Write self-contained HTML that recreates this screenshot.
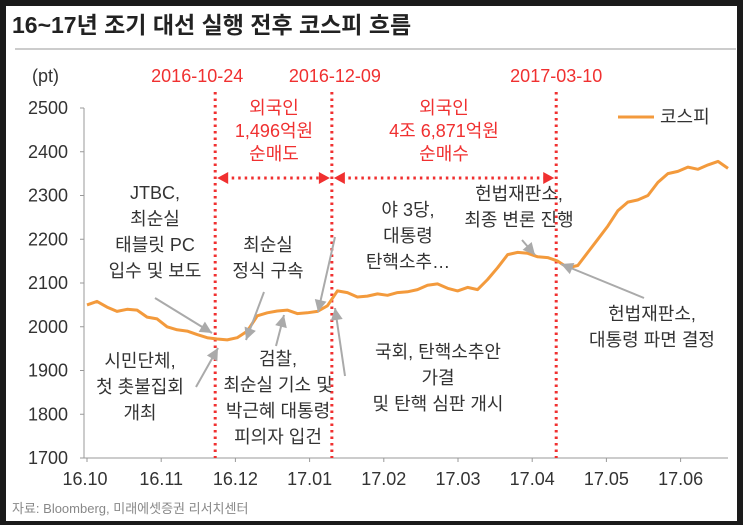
<!DOCTYPE html>
<html><head><meta charset="utf-8"><style>
body{margin:0;background:#1a1a1a;}
#wrap{position:absolute;left:6px;top:6px;width:731px;height:515px;background:#fff;}
svg{position:absolute;left:0;top:0;}
text{font-family:"Liberation Sans","Noto Sans CJK KR",sans-serif;}
</style></head><body>
<div id="wrap"></div>
<svg id="chart" width="743" height="525">
<text x="12" y="33" font-size="23" font-weight="bold" fill="#222">16~17년 조기 대선 실행 전후 코스피 흐름</text>
<line x1="15" y1="49" x2="736" y2="49" stroke="#ccc" stroke-width="2"/>
<text x="32" y="82" font-size="18" fill="#333">(pt)</text>
<g id="axes"></g>
<g id="marks"></g>
<text x="12" y="513" font-size="13" fill="#888">자료: Bloomberg, 미래에셋증권 리서치센터</text>
</svg>
<script>
const yTicks=[1700,1800,1900,2000,2100,2200,2300,2400,2500];
const xTickLabels=["16.10","16.11","16.12","17.01","17.02","17.03","17.04","17.05","17.06"];
const xTickPos=[0,1,2,3,4,5,6,7,8];
const kospi=[2050,2058,2045,2035,2040,2038,2022,2018,2000,1993,1990,1982,1975,1972,1970,1975,1990,2025,2032,2036,2038,2030,2032,2035,2048,2082,2078,2068,2070,2075,2072,2078,2080,2085,2095,2098,2088,2082,2090,2085,2108,2135,2165,2170,2168,2160,2158,2150,2135,2140,2170,2200,2230,2265,2285,2290,2300,2330,2350,2355,2365,2360,2370,2378,2362];
const eventDates=["2016-10-24","2016-12-09","2017-03-10"];
const eventPos=[0.20,0.382,0.732];

const NS="http://www.w3.org/2000/svg";
const axes=document.getElementById('axes'),marks=document.getElementById('marks');
const X0=87,X1=728,Y0=458,Y1=108;
const y=v=>Y0-(v-1700)/800*(Y0-Y1);
const xi=i=>X0+i*(X1-X0)/(kospi.length-1);
const xm=m=>X0+m*74.2;
const xf=f=>X0+f*(X1-X0);
function el(t,a,p){const e=document.createElementNS(NS,t);for(const k in a)e.setAttribute(k,a[k]);(p||marks).appendChild(e);return e;}
function txt(x,yy,s,a,p){const e=el('text',Object.assign({x:x,y:yy},a),p);e.textContent=s;return e;}

let ax=el('line',{x1:84,y1:Y1,x2:84,y2:Y0,stroke:'#999'},axes);

let bx=el('line',{x1:84,y1:Y0,x2:X1,y2:Y0,stroke:'#999'},axes);

yTicks.forEach(v=>{
  el('line',{x1:80,y1:y(v),x2:84,y2:y(v),stroke:'#999'},axes);
  const t=txt(68,y(v)+6,String(v),{'font-size':18,fill:'#333','text-anchor':'end'},axes);
  
});
xTickPos.forEach((m,i)=>{
  el('line',{x1:xm(m),y1:Y0,x2:xm(m),y2:Y0+4,stroke:'#999'},axes);
  const t=txt(xm(m)+(i==0?-2:0),Y0+27,xTickLabels[i],{'font-size':18,fill:'#333','text-anchor':'middle'},axes);
  
});

eventPos.forEach((f,i)=>{
  const l=el('line',{x1:xf(f),y1:92,x2:xf(f),y2:Y0,stroke:'#f03030','stroke-width':3,'stroke-dasharray':'2.5 4'});
  
  const t=txt(xf(f)+(i==0?-18:(i==1?3:0)),82,eventDates[i],{'font-size':18,fill:'#f03030','text-anchor':'middle'});
  
});
function darrow(a,b){
  el('line',{x1:a+10,y1:178,x2:b-10,y2:178,stroke:'#f03030','stroke-width':3,'stroke-dasharray':'2.5 4'});
  el('polygon',{points:`${a+2},178 ${a+13},172 ${a+13},184`,fill:'#f03030'});
  el('polygon',{points:`${b-2},178 ${b-13},172 ${b-13},184`,fill:'#f03030'});
}
darrow(xf(eventPos[0]),xf(eventPos[1]));darrow(xf(eventPos[1]),xf(eventPos[2]));
[[274,["외국인","1,496억원","순매도"]],[444,["외국인","4조 6,871억원","순매수"]]].forEach(([cx,ls])=>{
  ls.forEach((s,k)=>{const t=txt(cx,114+k*23,s,{'font-size':18,fill:'#f03030','text-anchor':'middle'});
  });
});

const pts=kospi.map((v,i)=>xi(i).toFixed(1)+','+y(v).toFixed(1)).join(' ');
const pl=el('polyline',{points:pts,fill:'none',stroke:'#f39a3c','stroke-width':3,'stroke-linejoin':'round'});

const lg=el('line',{x1:618,y1:117,x2:654,y2:117,stroke:'#f39a3c','stroke-width':3});

const lt=txt(660,123,'코스피',{'font-size':18,fill:'#333'});


function note(cx,y0,ls,a){
  ls.forEach((s,k)=>{const t=txt(cx,y0+k*26,s,{'font-size':18,fill:'#333','text-anchor':'middle'});
  });
  const [x1,y1,x2,y2]=a;
  el('line',{x1:x1,y1:y1,x2:x2,y2:y2,stroke:'#aaa','stroke-width':2});
  const ang=Math.atan2(y2-y1,x2-x1),L=12,W=6;
  const bx=x2-L*Math.cos(ang),by=y2-L*Math.sin(ang);
  el('polygon',{points:`${x2},${y2} ${bx-W*Math.sin(ang)},${by+W*Math.cos(ang)} ${bx+W*Math.sin(ang)},${by-W*Math.cos(ang)}`,fill:'#aaa'});
}
note(155,199,["JTBC,","최순실","태블릿 PC","입수 및 보도"],[155,298,212,333]);
note(268,251,["최순실","정식 구속"],[264,292,246,340]);
note(140,367,["시민단체,","첫 촛불집회","개최"],[196,387,218,348]);
note(278,365,["검찰,","최순실 기소 및","박근혜 대통령","피의자 입건"],[276,346,284,315]);
note(408,216,["야 3당,","대통령","탄핵소추…"],[335,237,318,312]);
note(438,358,["국회, 탄핵소추안","가결","및 탄핵 심판 개시"],[345,376,335,308]);
note(519,200,["헌법재판소,","최종 변론 진행"],[522,240,535,255]);
note(652,320,["헌법재판소,","대통령 파면 결정"],[644,298,561,264]);
</script>
</body></html>
